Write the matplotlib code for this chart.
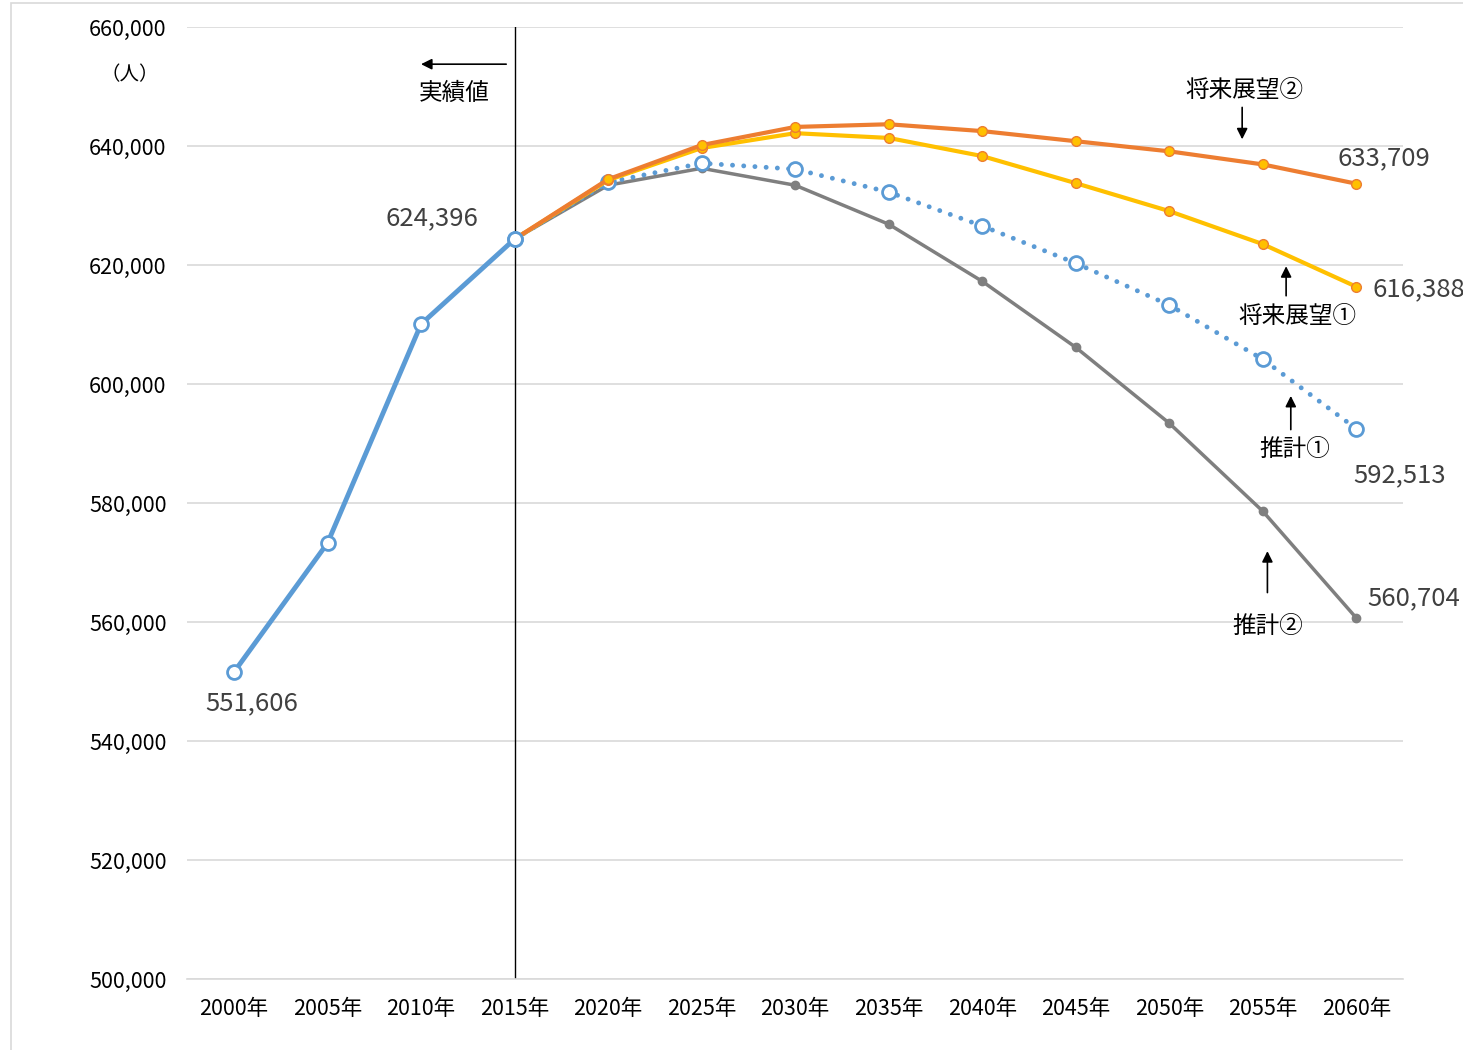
import numpy as np
import matplotlib
matplotlib.use("Agg")
import matplotlib.pyplot as plt
from matplotlib.patches import Rectangle

plt.rcParams['font.family'] = ['Noto Sans CJK JP', 'DejaVu Sans']

# data
years = ['2000年', '2005年', '2010年', '2015年', '2020年', '2025年', '2030年',
         '2035年', '2040年', '2045年', '2050年', '2055年', '2060年']
actual = [551606, 573300, 610100, 624396]
est1 = [624396, 633950, 637150, 636150, 632300, 626600, 620350, 613300, 604200, 592513]
est2 = [624396, 633450, 636300, 633450, 626900, 617300, 606200, 593450, 578650, 560704]
vision1 = [624396, 634300, 639700, 642200, 641400, 638350, 633800, 629100, 623550, 616388]
vision2 = [624396, 634450, 640200, 643250, 643700, 642550, 640850, 639150, 636950, 633709]

x = np.arange(len(years))
xa = x[:4]
xf = x[3:]

fig = plt.figure(figsize=(14.63, 10.5), dpi=100)
ax = fig.add_axes([0.128, 0.0676, 0.831, 0.9064])

# outer frame
fig.patches.append(Rectangle((11/1463, -0.01), 1.1, 1 - 3/1050 + 0.01, transform=fig.transFigure,
                             fill=False, edgecolor='#d9d9d9', linewidth=1.2))

ax.plot(xf, est2, color='#7f7f7f', lw=2.5, marker='o', ms=6, mfc='#7f7f7f', mec='#7f7f7f', zorder=3)
ax.plot(xf, est1, color='#5b9bd5', lw=3.5, ls=(0, (0.01, 2.3)), dash_capstyle='round',
        marker='o', ms=10, mfc='white', mec='#5b9bd5', mew=2, zorder=4)
ax.plot(xf, vision1, color='#ffc000', lw=3, marker='o', ms=7, mfc='#ffc000', mec='#ed7d31', mew=1, zorder=5)
ax.plot(xf, vision2, color='#ed7d31', lw=3, marker='o', ms=7, mfc='#ffc000', mec='#ed7d31', mew=1, zorder=6)
ax.plot(xa, actual, color='#5b9bd5', lw=3.5, marker='o', ms=10, mfc='white', mec='#5b9bd5', mew=2, zorder=7)

ax.set_xlim(-0.5, len(years) - 0.5)
ax.set_ylim(500000, 660000)
ax.set_yticks(np.arange(500000, 660001, 20000))
ax.set_yticklabels([f'{v:,}' for v in range(500000, 660001, 20000)], fontsize=15.5)
ax.set_xticks(x)
ax.set_xticklabels(years, fontsize=15.5)
ax.tick_params(length=0)
ax.tick_params(axis='x', pad=14)
ax.tick_params(axis='y', pad=15)
ax.grid(axis='y', color='#d9d9d9', lw=1.2)
ax.set_axisbelow(True)
for s in ['left', 'right', 'top']:
    ax.spines[s].set_visible(False)
ax.spines['bottom'].set_color('#d9d9d9')
ax.spines['bottom'].set_linewidth(1.2)

# divider at 2015
ax.axvline(3, color='black', lw=1, zorder=2)

lab = dict(fontsize=18.5, color='#404040')
ax.text(0.19, 546400, f'{actual[0]:,}', ha='center', va='center', **lab)
ax.text(2.12, 627900, f'{actual[3]:,}', ha='center', va='center', **lab)
ax.text(12.3, 638000, f'{vision2[-1]:,}', ha='center', va='center', **lab)
ax.text(12.17, 616000, f'{vision1[-1]:,}', ha='left', va='center', **lab)
ax.text(12.46, 584700, f'{est1[-1]:,}', ha='center', va='center', **lab)
ax.text(12.61, 564000, f'{est2[-1]:,}', ha='center', va='center', **lab)

ax.text(-1.11, 652000, '（人）', ha='center', va='center', fontsize=14)

ann = dict(fontsize=17, color='black', ha='center', va='center')
arr = dict(arrowstyle='-|>', color='black', lw=1.2, mutation_scale=16)
ax.annotate('', xy=(1.97, 653800), xytext=(2.94, 653800), arrowprops=arr)
ax.text(2.35, 648900, '実績値', **ann)

ax.text(10.8, 649400, '将来展望②', **ann)
ax.annotate('', xy=(10.78, 640700), xytext=(10.78, 647000), arrowprops=arr)

ax.text(11.37, 611300, '将来展望①', **ann)
ax.annotate('', xy=(11.25, 620300), xytext=(11.25, 614400), arrowprops=arr)

ax.text(11.34, 589100, '推計①', **ann)
ax.annotate('', xy=(11.3, 598500), xytext=(11.3, 591900), arrowprops=arr)

ax.text(11.05, 559300, '推計②', **ann)
ax.annotate('', xy=(11.05, 572400), xytext=(11.05, 564500), arrowprops=arr)

fig.savefig('out.png', dpi=100)
